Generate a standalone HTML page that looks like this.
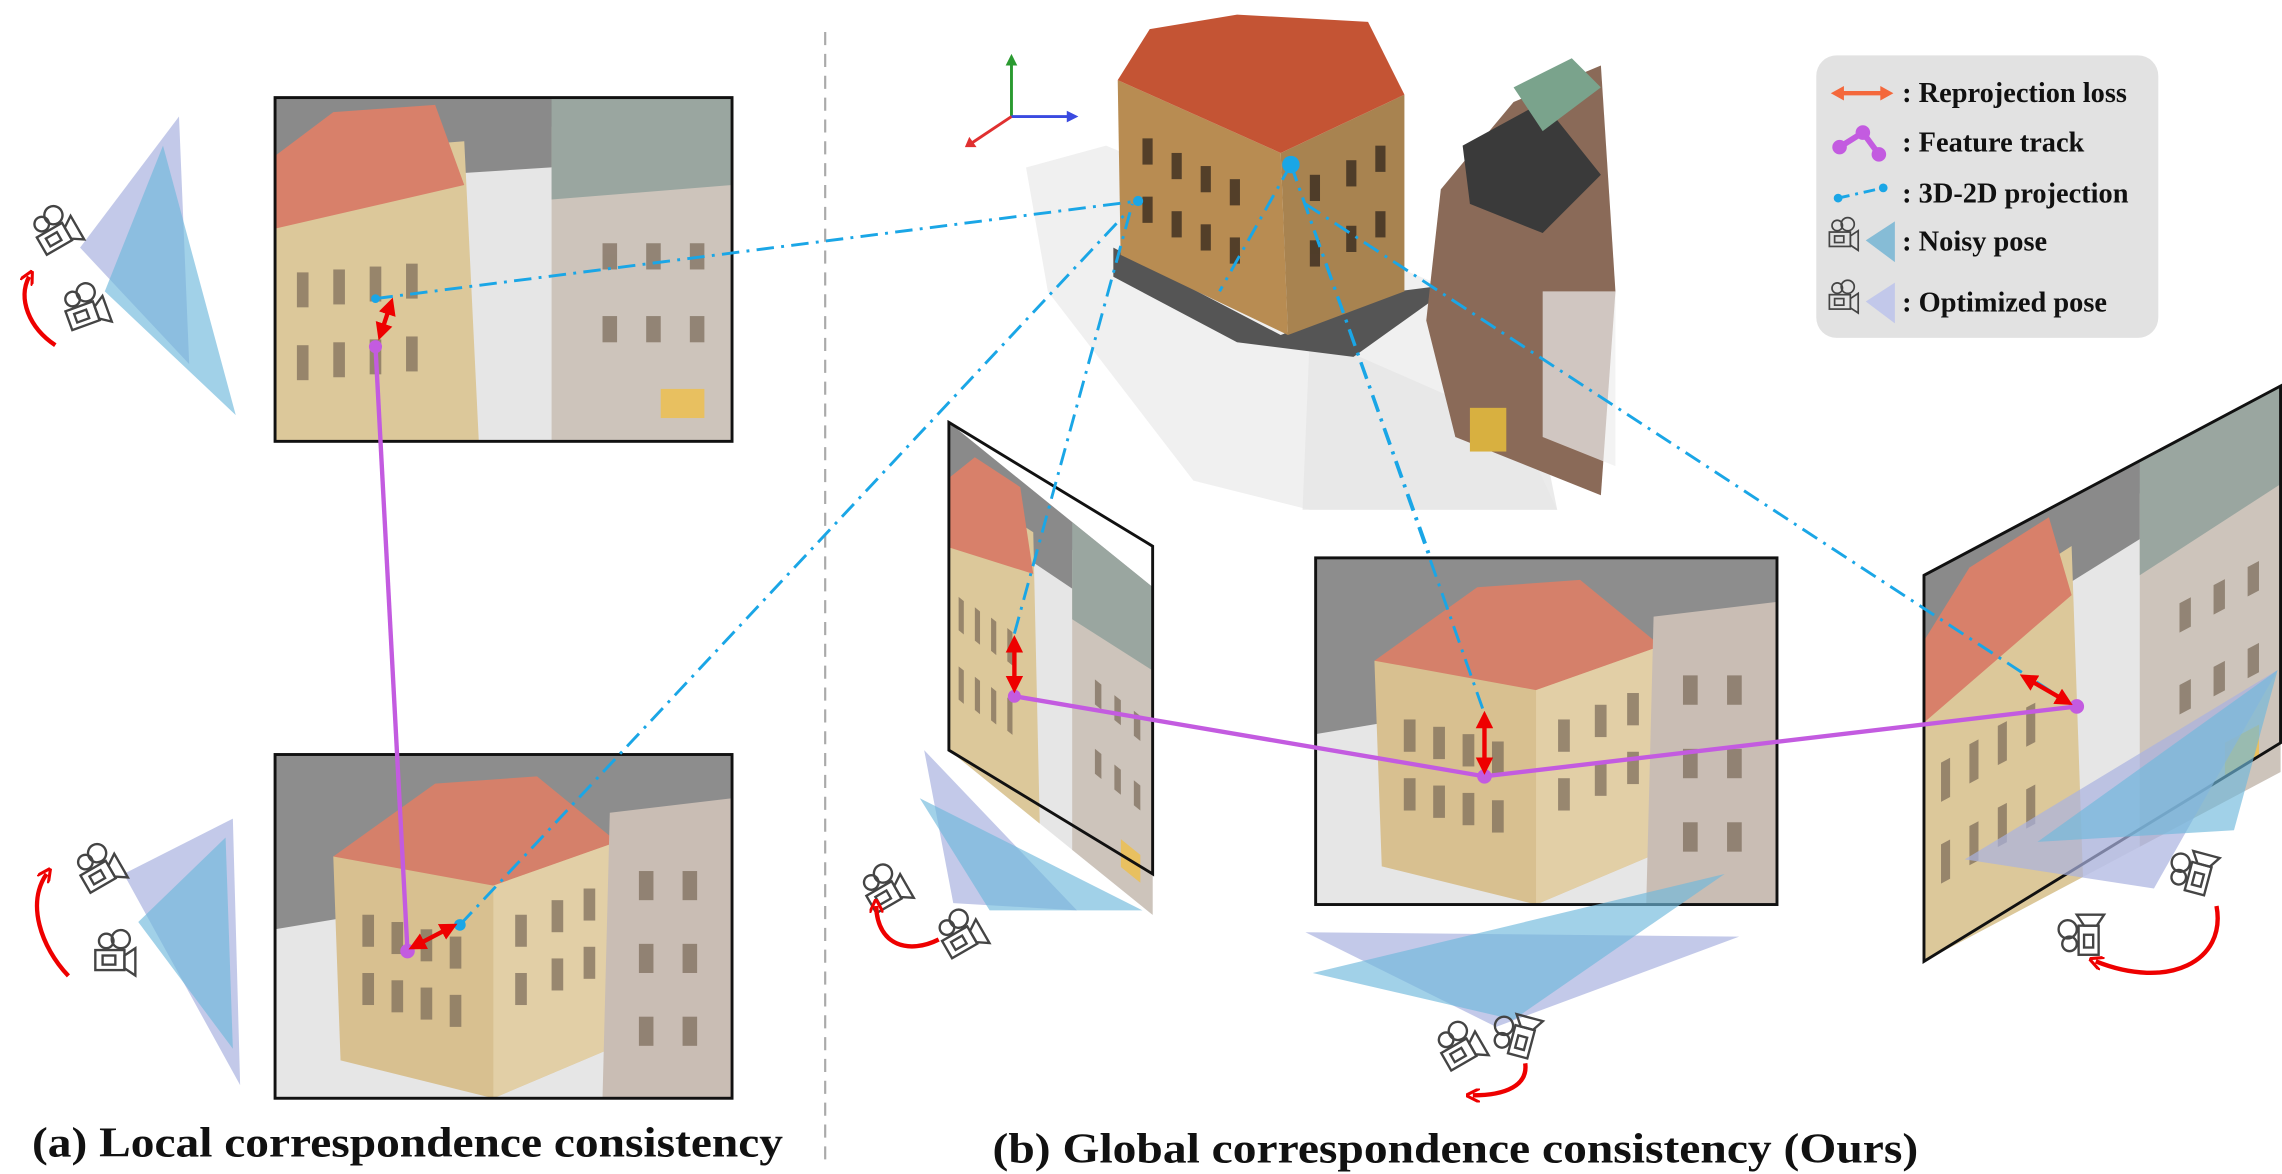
<!DOCTYPE html>
<html><head><meta charset="utf-8"><style>html,body{margin:0;padding:0;background:#fff;}svg{display:block}</style></head>
<body>
<svg width="2282" height="1174" viewBox="0 0 1568 806" preserveAspectRatio="none" xmlns="http://www.w3.org/2000/svg">
<defs>
  <g id="scene">
    <rect x="0" y="0" width="314" height="236" fill="#e6e6e6"/>
    <polygon points="0,0 314,0 314,90 200,70 60,110 0,120" fill="#8d8d8d"/>
    <polygon points="40,70 150,30 230,60 235,200 150,236 45,210" fill="#d8c090"/>
    <polygon points="40,70 110,20 180,15 235,60 150,90" fill="#d5806a"/>
    <polygon points="150,90 235,60 235,200 150,236" fill="#e2cfa6"/>
    <polygon points="230,40 314,30 314,236 225,236" fill="#c9bdb4"/>
    <g fill="#7a6a58" opacity="0.7">
      <rect x="60" y="110" width="8" height="22"/><rect x="80" y="115" width="8" height="22"/><rect x="100" y="120" width="8" height="22"/><rect x="120" y="125" width="8" height="22"/>
      <rect x="60" y="150" width="8" height="22"/><rect x="80" y="155" width="8" height="22"/><rect x="100" y="160" width="8" height="22"/><rect x="120" y="165" width="8" height="22"/>
      <rect x="165" y="110" width="8" height="22"/><rect x="190" y="100" width="8" height="22"/><rect x="212" y="92" width="8" height="22"/>
      <rect x="165" y="150" width="8" height="22"/><rect x="190" y="140" width="8" height="22"/><rect x="212" y="132" width="8" height="22"/>
      <rect x="250" y="80" width="10" height="20"/><rect x="280" y="80" width="10" height="20"/><rect x="250" y="130" width="10" height="20"/><rect x="280" y="130" width="10" height="20"/><rect x="250" y="180" width="10" height="20"/><rect x="280" y="180" width="10" height="20"/>
    </g>
  </g>
  <g id="scene2">
    <rect x="0" y="0" width="314" height="236" fill="#e6e6e6"/>
    <polygon points="0,0 314,0 314,40 0,60" fill="#8a8a8a"/>
    <polygon points="0,40 130,30 140,236 0,236" fill="#dcc89a"/>
    <polygon points="0,40 40,10 110,5 130,60 0,90" fill="#d8806a"/>
    <polygon points="190,20 314,0 314,236 190,236" fill="#cdc4bb"/>
    <polygon points="190,0 314,0 314,60 190,70" fill="#9aa6a0"/>
    <g fill="#7a6a58" opacity="0.7">
      <rect x="15" y="120" width="8" height="24"/><rect x="40" y="118" width="8" height="24"/><rect x="65" y="116" width="8" height="24"/><rect x="90" y="114" width="8" height="24"/>
      <rect x="15" y="170" width="8" height="24"/><rect x="40" y="168" width="8" height="24"/><rect x="65" y="166" width="8" height="24"/><rect x="90" y="164" width="8" height="24"/>
      <rect x="225" y="100" width="10" height="18"/><rect x="255" y="100" width="10" height="18"/><rect x="285" y="100" width="10" height="18"/>
      <rect x="225" y="150" width="10" height="18"/><rect x="255" y="150" width="10" height="18"/><rect x="285" y="150" width="10" height="18"/>
    </g>
    <rect x="265" y="200" width="30" height="20" fill="#e8c060"/>
  </g>
  <g id="cam" fill="none" stroke="#444" stroke-width="1.3">
    <circle cx="-4" cy="-8" r="4"/><circle cx="4" cy="-9" r="5"/>
    <rect x="-10" y="-3" width="16" height="11"/><rect x="-6" y="0" width="7" height="5"/>
    <polygon points="6,0 12,-4 12,11 6,7"/>
  </g>
  <marker id="rh" viewBox="0 0 10 10" refX="5" refY="5" markerWidth="4" markerHeight="4" orient="auto-start-reverse"><path d="M0,0 L10,5 L0,10 z" fill="#e00"/></marker>
  <marker id="rr" viewBox="0 0 10 10" refX="5" refY="5" markerWidth="3.2" markerHeight="3.2" orient="auto"><path d="M0,0 L10,5 L0,10" fill="none" stroke="#e00" stroke-width="2.2"/></marker>
</defs>

<line x1="567" y1="22" x2="567" y2="800" stroke="#aaa" stroke-width="1.5" stroke-dasharray="9,6"/>

<g transform="translate(189,67)"><use href="#scene2"/></g>
<rect x="189" y="67" width="314" height="236" fill="none" stroke="#111" stroke-width="2"/>
<g transform="translate(189,518)"><use href="#scene"/></g>
<rect x="189" y="518" width="314" height="236" fill="none" stroke="#111" stroke-width="2"/>

<polygon points="55,170 123,80 130,250" fill="#aab2e0" opacity="0.7"/>
<polygon points="72,200 112,100 162,285" fill="#6fb8dc" opacity="0.65"/>
<polygon points="85,600 160,562 165,745" fill="#aab2e0" opacity="0.7"/>
<polygon points="95,633 155,575 160,720" fill="#6fb8dc" opacity="0.65"/>
<use href="#cam" transform="translate(38,160) rotate(-30) scale(1.25)"/>
<use href="#cam" transform="translate(58,213) rotate(-20) scale(1.25)"/>
<use href="#cam" transform="translate(68,598) rotate(-30) scale(1.25)"/>
<use href="#cam" transform="translate(78,656) scale(1.25)"/>
<path d="M38,237 C20,225 12,205 20,190" fill="none" stroke="#e00" stroke-width="3" marker-end="url(#rr)"/>
<path d="M47,670 C28,650 18,620 32,600" fill="none" stroke="#e00" stroke-width="3" marker-end="url(#rr)"/>

<polygon points="705,115 760,100 1000,200 1070,350 900,350 820,330 720,200" fill="#f0f0f0"/>
<polygon points="900,230 1060,300 1070,350 895,350" fill="#e6e6e6" opacity="0.8"/>
<polygon points="765,170 880,230 960,200 1000,195 930,245 850,235 765,190" fill="#555"/>
<polygon points="768,55 880,105 885,230 770,175" fill="#b88c52"/>
<polygon points="880,105 965,65 965,200 885,230" fill="#a88350"/>
<polygon points="768,55 790,20 850,10 940,15 965,65 880,105" fill="#c45434"/>
<g fill="#3a2c20" opacity="0.8">
  <rect x="785" y="95" width="7" height="18"/><rect x="805" y="105" width="7" height="18"/><rect x="825" y="114" width="7" height="18"/><rect x="845" y="123" width="7" height="18"/>
  <rect x="785" y="135" width="7" height="18"/><rect x="805" y="145" width="7" height="18"/><rect x="825" y="154" width="7" height="18"/><rect x="845" y="163" width="7" height="18"/>
  <rect x="900" y="120" width="7" height="18"/><rect x="925" y="110" width="7" height="18"/><rect x="945" y="100" width="7" height="18"/>
  <rect x="900" y="165" width="7" height="18"/><rect x="925" y="155" width="7" height="18"/><rect x="945" y="145" width="7" height="18"/>
</g>
<polygon points="990,130 1040,70 1100,45 1110,200 1100,340 1000,300 980,220" fill="#8a6a58"/>
<polygon points="1005,100 1060,70 1100,120 1060,160 1010,140" fill="#3a3a3a"/>
<polygon points="1040,60 1080,40 1100,60 1060,90" fill="#7aa38c"/>
<polygon points="1060,200 1110,200 1110,320 1060,300" fill="#eeeeee" opacity="0.7"/>
<rect x="1010" y="280" width="25" height="30" fill="#d8b040"/>

<line x1="695" y1="80" x2="695" y2="42" stroke="#2a9a30" stroke-width="2"/><polygon points="691,45 699,45 695,37" fill="#2a9a30"/>
<line x1="695" y1="80" x2="736" y2="80" stroke="#3a4ae0" stroke-width="2"/><polygon points="733,76 733,84 741,80" fill="#3a4ae0"/>
<line x1="695" y1="80" x2="668" y2="98" stroke="#e03030" stroke-width="2"/><polygon points="666,94 671,101 663,101" fill="#e03030"/>

<g transform="matrix(0.4459,0.3602,0,0.9534,652,290)"><use href="#scene2"/></g>
<polygon points="652,290 792,375 792,600 652,515" fill="none" stroke="#111" stroke-width="2"/>
<g transform="translate(904,383) scale(1.0096,1.0085)"><use href="#scene"/></g>
<rect x="904" y="383" width="317" height="238" fill="none" stroke="#111" stroke-width="2"/>
<g transform="matrix(0.7803,-0.414,0,1.123,1322,395)"><use href="#scene2"/></g>
<polygon points="1322,395 1567,265 1567,510 1322,660" fill="none" stroke="#111" stroke-width="2"/>

<polygon points="635,515 740,625 655,620" fill="#aab2e0" opacity="0.7"/>
<polygon points="632,548 785,625 680,625" fill="#6fb8dc" opacity="0.65"/>
<polygon points="897,640 1195,643 1028,705" fill="#aab2e0" opacity="0.7"/>
<polygon points="902,668 1185,600 1040,700" fill="#6fb8dc" opacity="0.65"/>
<polygon points="1350,590 1565,460 1480,610" fill="#aab2e0" opacity="0.7"/>
<polygon points="1400,578 1565,460 1535,570" fill="#6fb8dc" opacity="0.65"/>
<use href="#cam" transform="translate(608,612) rotate(-30) scale(1.25)"/>
<use href="#cam" transform="translate(660,643) rotate(-30) scale(1.25)"/>
<use href="#cam" transform="translate(1003,720) rotate(-30) scale(1.25)"/>
<use href="#cam" transform="translate(1043,712) rotate(-75) scale(1.25)"/>
<use href="#cam" transform="translate(1508,600) rotate(-75) scale(1.25)"/>
<use href="#cam" transform="translate(1432,643) rotate(-90) scale(1.25)"/>
<path d="M645,645 C625,655 603,650 602,622" fill="none" stroke="#e00" stroke-width="3" marker-end="url(#rr)"/>
<path d="M1048,730 C1050,745 1035,752 1012,752" fill="none" stroke="#e00" stroke-width="3" marker-end="url(#rr)"/>
<path d="M1523,622 C1530,660 1490,680 1440,660" fill="none" stroke="#e00" stroke-width="3" marker-end="url(#rr)"/>

<g stroke="#1aa6e6" stroke-width="2" fill="none" stroke-dasharray="12,5,2,5">
  <line x1="258" y1="205" x2="782" y2="138"/>
  <line x1="316" y1="635" x2="775" y2="145"/>
  <line x1="697" y1="435" x2="778" y2="140"/>
  <line x1="887" y1="113" x2="1020" y2="490"/>
  <line x1="887" y1="113" x2="838" y2="200"/>
  <line x1="897" y1="140" x2="1425" y2="485"/>
  <line x1="887" y1="113" x2="982" y2="380"/>
</g>
<circle cx="887" cy="113" r="6" fill="#1aa6e6"/>
<circle cx="782" cy="138" r="3.5" fill="#1aa6e6"/>
<circle cx="316" cy="635" r="4" fill="#1aa6e6"/>
<circle cx="258" cy="205" r="3" fill="#1aa6e6"/>

<g stroke="#c35be0" stroke-width="3" fill="none">
  <polyline points="258,238 280,653"/>
  <polyline points="697,478 1020,533 1427,485"/>
</g>
<g fill="#c35be0"><circle cx="258" cy="238" r="4.5"/><circle cx="280" cy="653" r="5"/><circle cx="697" cy="478" r="4.5"/><circle cx="1020" cy="533" r="5"/><circle cx="1427" cy="485" r="5"/></g>

<g stroke="#e00" stroke-width="3" marker-start="url(#rh)" marker-end="url(#rh)">
  <line x1="262" y1="228" x2="268" y2="210"/>
  <line x1="286" y1="649" x2="309" y2="637"/>
  <line x1="697" y1="442" x2="697" y2="470"/>
  <line x1="1020" y1="494" x2="1020" y2="526"/>
  <line x1="1393" y1="466" x2="1419" y2="481"/>
</g>

<rect x="1248" y="38" width="235" height="194" rx="14" fill="#e2e2e2"/>
<line x1="1262" y1="64" x2="1297" y2="64" stroke="#f4683c" stroke-width="3"/>
<polygon points="1258,64 1267,59 1267,69" fill="#f4683c"/><polygon points="1301,64 1292,59 1292,69" fill="#f4683c"/>
<polyline points="1264,101 1280,91 1291,106" stroke="#c35be0" stroke-width="4" fill="none"/>
<g fill="#c35be0"><circle cx="1264" cy="101" r="5"/><circle cx="1280" cy="91" r="5"/><circle cx="1291" cy="106" r="5"/></g>
<line x1="1263" y1="136" x2="1294" y2="129" stroke="#1aa6e6" stroke-width="2" stroke-dasharray="8,4,2,4"/>
<circle cx="1263" cy="136" r="3" fill="#1aa6e6"/><circle cx="1294" cy="129" r="3" fill="#1aa6e6"/>
<polygon points="1282,165 1302,152 1302,180" fill="#86bcd6"/>
<use href="#cam" transform="translate(1266,162) scale(0.9)"/>
<polygon points="1282,207 1302,194 1302,222" fill="#c2c8ea"/>
<use href="#cam" transform="translate(1266,205) scale(0.9)"/>
<g font-family="Liberation Serif, serif" font-weight="bold" font-size="19.5" fill="#111">
  <text x="1307" y="70">: Reprojection loss</text>
  <text x="1307" y="104">: Feature track</text>
  <text x="1307" y="139">: 3D-2D projection</text>
  <text x="1307" y="172">: Noisy pose</text>
  <text x="1307" y="214">: Optimized pose</text>
</g>

<g font-family="Liberation Serif, serif" font-weight="bold" font-size="29" fill="#111">
  <text x="22" y="794" textLength="516" lengthAdjust="spacingAndGlyphs">(a) Local correspondence consistency</text>
  <text x="682" y="798" textLength="636" lengthAdjust="spacingAndGlyphs">(b) Global correspondence consistency (Ours)</text>
</g>
</svg>
</body></html>
